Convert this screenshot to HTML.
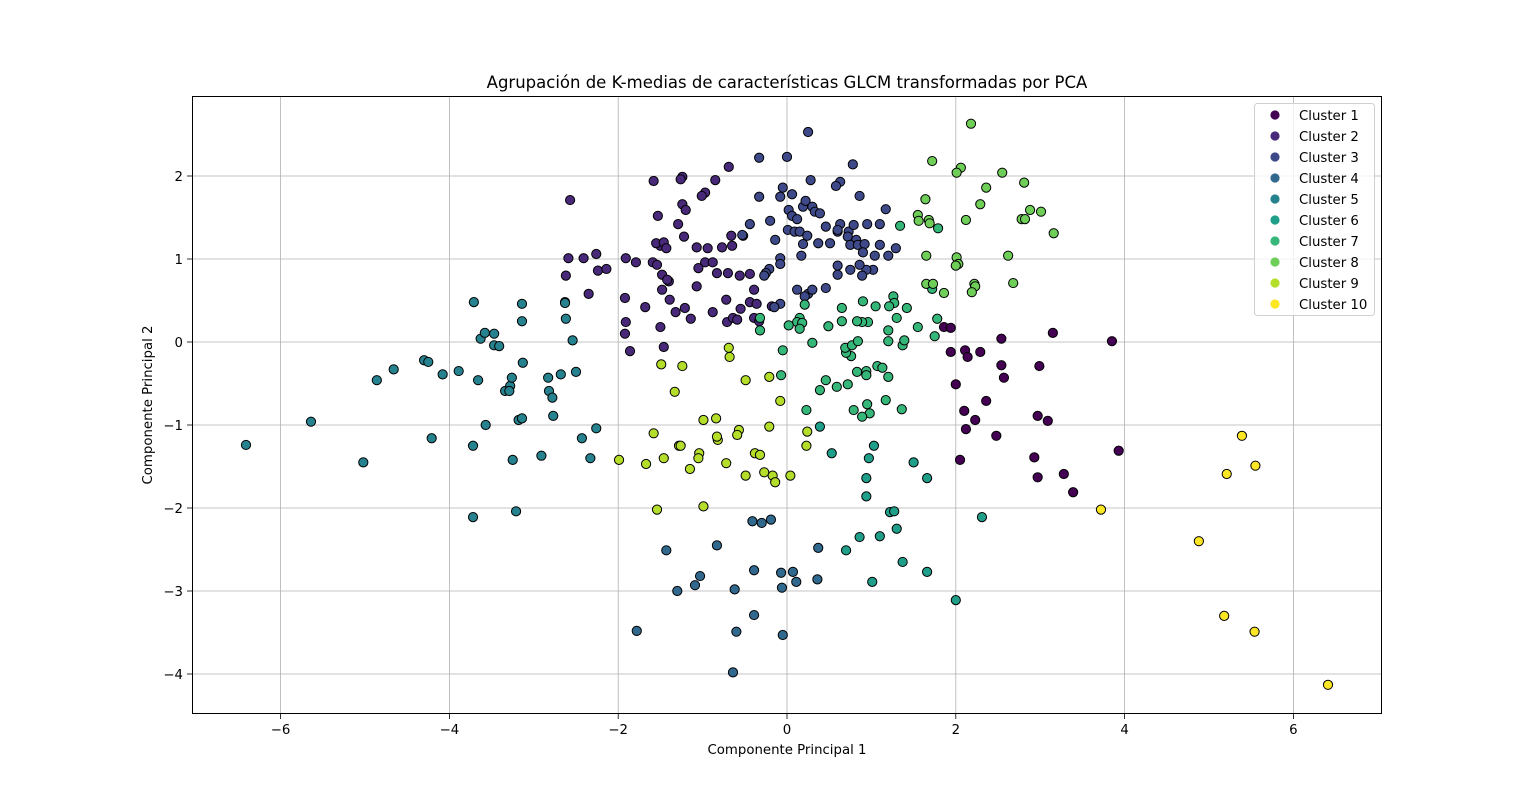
<!DOCTYPE html>
<html><head><meta charset="utf-8"><style>
body{margin:0;background:#fff}
svg{display:block;font-family:"DejaVu Sans","Liberation Sans",sans-serif}
</style></head><body>
<svg id="chart" width="1536" height="802" viewBox="0 0 1536 802">
<rect x="0" y="0" width="1536" height="802" fill="#fff"/>
<g id="grid"></g>
<g id="points"></g>
<rect x="192.5" y="96.5" width="1189" height="617" fill="none" stroke="#000" stroke-width="1"/>
<g id="ticks"></g>
<text x="787" y="88" text-anchor="middle" font-size="16.5">Agrupación de K-medias de características GLCM transformadas por PCA</text>
<text x="787" y="754" text-anchor="middle" font-size="13.3">Componente Principal 1</text>
<text x="152" y="405" text-anchor="middle" font-size="13.3" transform="rotate(-90 152 405)">Componente Principal 2</text>
<g id="legend"></g>
</svg>
<script>
const xTicks=[-6,-4,-2,0,2,4,6];
const yTicks=[-4,-3,-2,-1,0,1,2];
const clusterNames=["Cluster 1","Cluster 2","Cluster 3","Cluster 4","Cluster 5","Cluster 6","Cluster 7","Cluster 8","Cluster 9","Cluster 10"];
const colors=["#440154","#482878","#3e4989","#31688e","#26828e","#1f9e89","#35b779","#6ece58","#b5de2b","#fde725"];
const c1x=[3.85,3.15,2.54,1.86,1.94,1.94,2.11,2.14,2.29,2.54,2.57,2.00,2.99,2.10,2.36,2.23,2.12,2.48,2.05,2.97,3.09,2.93,2.97,3.28,3.39,3.93];
const c1y=[0.01,0.11,0.04,0.18,0.17,-0.12,-0.10,-0.18,-0.12,-0.28,-0.43,-0.51,-0.29,-0.83,-0.71,-0.94,-1.05,-1.13,-1.42,-0.89,-0.95,-1.39,-1.63,-1.59,-1.81,-1.31];
const c2x=[-2.57,-1.58,-1.24,-1.26,-0.97,-0.85,-0.69,-0.52,-1.53,-1.24,-1.20,-1.01,-1.29,-1.50,-1.55,-1.46,-1.43,-1.22,-1.07,-0.97,-0.88,-0.77,-0.65,-0.66,-2.59,-2.41,-2.26,-2.62,-2.24,-2.14,-2.35,-2.63,-1.91,-1.79,-1.59,-1.54,-1.48,-1.40,-1.39,-1.32,-1.21,-1.14,-1.07,-1.05,-0.94,-0.83,-0.70,-0.56,-0.44,-0.72,-0.71,-0.64,-0.88,-0.55,-0.44,-0.39,-0.36,-0.39,-0.33,-0.59,-1.92,-1.91,-1.92,-1.86,-1.68,-1.50,-1.46,-1.48,-1.42,-0.18];
const c2y=[1.71,1.94,1.99,1.96,1.80,1.95,2.11,1.28,1.52,1.66,1.59,1.76,1.42,1.16,1.19,1.20,1.13,1.27,1.14,0.96,0.96,1.14,1.16,1.28,1.01,1.01,1.06,0.80,0.86,0.88,0.58,0.48,1.01,0.96,0.96,0.93,0.81,0.73,0.51,0.36,0.41,0.28,0.67,0.89,1.13,0.83,0.83,0.80,0.82,0.51,0.24,0.29,0.36,0.40,0.48,0.63,0.46,0.29,0.25,0.27,0.53,0.24,0.10,-0.11,0.42,0.18,-0.06,0.63,0.75,0.43];
const c3x=[0.25,0.00,-0.33,0.78,0.86,0.63,0.58,0.28,-0.05,-0.08,0.06,-0.33,-0.44,-0.53,-0.20,0.02,0.06,0.12,0.19,0.22,0.30,0.33,0.39,0.46,0.51,0.37,0.19,0.01,0.09,0.15,0.24,0.63,0.60,0.73,0.72,0.82,0.75,0.84,0.92,0.95,0.79,1.10,1.17,1.29,1.10,1.04,1.20,1.02,0.94,0.86,0.60,0.75,0.60,0.89,0.46,0.17,-0.08,-0.08,-0.21,-0.25,-0.14,0.25,0.21,0.30,0.12,-0.08,-0.15,-0.27,0.90,0.60];
const c3y=[2.53,2.23,2.22,2.14,1.76,1.93,1.88,1.95,1.86,1.75,1.78,1.75,1.42,1.29,1.46,1.59,1.52,1.48,1.63,1.70,1.63,1.57,1.55,1.39,1.19,1.19,1.18,1.35,1.33,1.33,1.28,1.42,1.33,1.33,1.27,1.23,1.17,1.17,1.18,1.42,1.41,1.42,1.60,1.13,1.17,1.04,1.04,0.87,0.87,0.93,0.92,0.87,0.81,0.80,0.65,1.04,1.01,0.94,0.88,0.83,1.23,0.58,0.55,0.63,0.63,0.46,0.42,0.80,1.08,1.35];
const c4x=[-1.43,-0.83,-0.41,-0.30,-0.19,-0.39,-0.07,0.07,0.11,0.37,0.36,-1.03,-1.09,-1.30,-0.62,-0.06,-1.78,-0.39,-0.60,-0.05,-0.64];
const c4y=[-2.51,-2.45,-2.16,-2.18,-2.14,-2.75,-2.78,-2.77,-2.89,-2.48,-2.86,-2.82,-2.93,-3.00,-2.98,-2.96,-3.48,-3.29,-3.49,-3.53,-3.98];
const c5x=[-6.41,-5.64,-5.02,-4.86,-4.66,-4.30,-4.25,-4.08,-3.89,-3.72,-4.21,-3.72,-3.66,-3.71,-3.63,-3.58,-3.47,-3.47,-3.41,-3.57,-3.34,-3.28,-3.26,-3.29,-3.25,-3.21,-3.18,-3.14,-3.14,-3.14,-3.13,-2.91,-2.83,-2.82,-2.78,-2.77,-2.68,-2.63,-2.62,-2.54,-2.50,-2.43,-2.33,-2.26];
const c5y=[-1.24,-0.96,-1.45,-0.46,-0.33,-0.22,-0.24,-0.39,-0.35,-1.25,-1.16,-2.11,-0.46,0.48,0.04,0.11,0.10,-0.04,-0.05,-1.00,-0.59,-0.53,-0.43,-0.59,-1.42,-2.04,-0.94,-0.92,0.46,0.25,-0.25,-1.37,-0.43,-0.59,-0.67,-0.89,-0.39,0.47,0.28,0.02,-0.36,-1.16,-1.40,-1.04];
const c6x=[2.00,2.31,1.37,1.66,1.01,0.70,0.86,1.10,1.22,1.27,1.30,0.94,0.94,0.97,1.03,1.66,1.50,0.53,0.39];
const c6y=[-3.11,-2.11,-2.65,-2.77,-2.89,-2.51,-2.35,-2.34,-2.05,-2.04,-2.25,-1.64,-1.86,-1.40,-1.25,-1.64,-1.45,-1.34,-1.02];
const c7x=[-0.32,-0.32,-0.05,-0.07,0.23,0.39,0.46,0.59,0.72,0.83,0.94,0.76,0.70,0.69,0.77,0.84,0.94,0.79,0.95,0.98,0.89,1.07,1.13,1.20,1.17,1.36,1.37,1.39,1.20,1.26,1.27,1.21,1.20,1.30,1.42,1.55,1.75,1.78,1.72,1.34,1.79,1.05,0.96,0.89,0.83,0.90,0.65,0.65,0.49,0.21,0.15,0.12,0.18,0.15,0.02,0.30];
const c7y=[0.29,0.14,-0.10,-0.40,-0.82,-0.58,-0.46,-0.54,-0.51,-0.36,-0.35,-0.17,-0.13,-0.07,-0.04,0.01,-0.40,-0.82,-0.75,-0.86,-0.90,-0.29,-0.31,-0.42,-0.70,-0.81,-0.04,0.02,0.01,0.55,0.47,0.43,0.14,0.29,0.41,0.18,0.07,0.28,0.64,1.40,1.37,0.43,0.24,0.24,0.25,0.49,0.41,0.25,0.19,0.45,0.29,0.24,0.23,0.16,0.20,-0.01];
const c8x=[2.18,1.72,2.06,2.01,2.55,2.36,2.81,2.29,2.88,3.01,2.78,2.82,3.16,2.12,1.64,1.55,1.56,1.68,1.69,1.65,2.01,2.03,2.00,2.62,1.65,1.73,1.86,2.22,2.23,2.19,2.68];
const c8y=[2.63,2.18,2.10,2.04,2.04,1.86,1.92,1.66,1.59,1.57,1.48,1.48,1.31,1.47,1.72,1.53,1.46,1.47,1.43,1.04,1.02,0.94,0.92,1.04,0.70,0.70,0.59,0.70,0.67,0.60,0.71];
const c9x=[-0.69,-0.68,-0.49,-0.21,-0.08,-1.24,-1.49,-1.33,-0.57,-0.59,-0.82,-0.84,-0.99,-0.83,-1.04,-1.05,-1.15,-1.58,-1.28,-1.26,-1.46,-1.67,-1.99,-1.54,-0.99,-0.72,-0.38,-0.32,-0.49,-0.27,-0.17,-0.14,0.04,-0.21,0.23,0.24];
const c9y=[-0.07,-0.18,-0.46,-0.42,-0.71,-0.29,-0.27,-0.60,-1.06,-1.12,-1.18,-0.92,-0.94,-1.14,-1.34,-1.40,-1.53,-1.10,-1.25,-1.25,-1.40,-1.47,-1.42,-2.02,-1.98,-1.46,-1.34,-1.36,-1.61,-1.57,-1.61,-1.69,-1.61,-1.02,-1.25,-1.08];
const c10x=[5.39,5.21,5.55,3.72,4.88,5.18,5.54,6.41];
const c10y=[-1.13,-1.59,-1.49,-2.02,-2.40,-3.30,-3.49,-4.13];
const seriesX=[c1x,c2x,c3x,c4x,c5x,c6x,c7x,c8x,c9x,c10x];
const seriesY=[c1y,c2y,c3y,c4y,c5y,c6y,c7y,c8y,c9y,c10y];

const NS="http://www.w3.org/2000/svg";
const X0=192,X1=1382,Y0=96,Y1=714;
function sx(v){return 787+84.4*v;}
function sy(v){return 342-83*v;}
function mk(tag,attrs,parent){const e=document.createElementNS(NS,tag);for(const k in attrs)e.setAttribute(k,attrs[k]);parent.appendChild(e);return e;}
const grid=document.getElementById('grid'),ticks=document.getElementById('ticks'),pts=document.getElementById('points'),leg=document.getElementById('legend');
xTicks.forEach(t=>{
  const x=sx(t);
  const g=mk('line',{x1:x,x2:x,y1:Y0,y2:Y1,stroke:'#b0b0b0','stroke-width':0.8},grid);
  
  
  const tk=mk('line',{x1:x,x2:x,y1:Y1,y2:Y1+5,stroke:'#000','stroke-width':0.8},ticks);
  
  
  const tx=mk('text',{x:x,y:Y1+20,'text-anchor':'middle','font-size':13.3},ticks);
  tx.textContent=(t<0?'\u2212'+(-t):String(t));
  
  
});
yTicks.forEach(t=>{
  const y=sy(t);
  const g=mk('line',{x1:X0,x2:X1,y1:y,y2:y,stroke:'#b0b0b0','stroke-width':0.8},grid);
  
  
  const tk=mk('line',{x1:X0-5,x2:X0,y1:y,y2:y,stroke:'#000','stroke-width':0.8},ticks);
  
  
  const tx=mk('text',{x:X0-9,y:y+5,'text-anchor':'end','font-size':13.3},ticks);
  tx.textContent=(t<0?'\u2212'+(-t):String(t));
  
  
});
seriesX.forEach((xs,i)=>{
  xs.forEach((v,j)=>{
    const c=mk('circle',{cx:sx(v),cy:sy(seriesY[i][j]),r:4.6,fill:colors[i],stroke:'#000','stroke-width':1},pts);
    
    
  });
});
const lb=mk('rect',{x:1254.5,y:103.5,width:120,height:212,rx:3,fill:'#fff','fill-opacity':0.8,stroke:'#d0d0d0'},leg);


clusterNames.forEach((n,i)=>{
  const y=115+21*i;
  const g=mk('g',{},leg);
  
  
  mk('circle',{cx:1275,cy:y,r:4.6,fill:colors[i],stroke:'none'},g);
  const t=mk('text',{x:1299,y:y+5,'font-size':13.3},g);
  t.textContent=n;
});
</script>
</body></html>
